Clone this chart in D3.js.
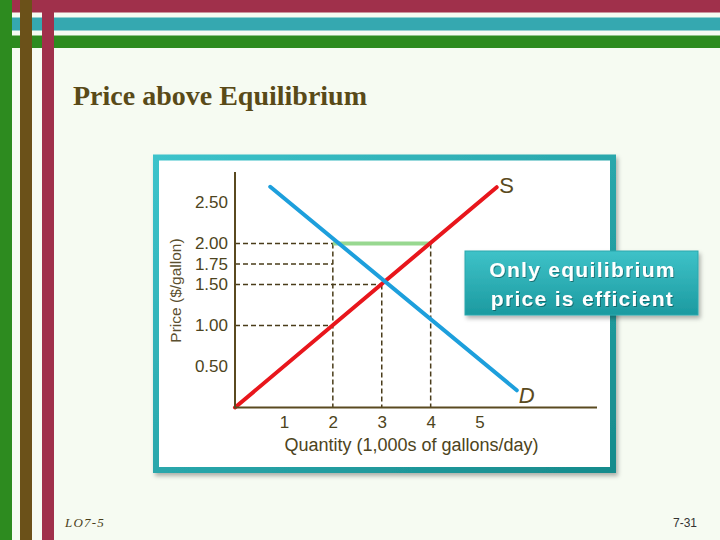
<!DOCTYPE html>
<html>
<head>
<meta charset="utf-8">
<script src="https://cdn.jsdelivr.net/npm/d3@7"></script>
<style>
  html, body { margin: 0; padding: 0; background: #f6fbf2; }
  svg { display: block; }
</style>
</head>
<body>
<svg id="chart" width="720" height="540"></svg>
<script>
// ---- data ----
const titleText = "Price above Equilibrium";
const yTickValues = [0.5, 1.0, 1.5, 1.75, 2.0, 2.5];
const yTickLabels = ["0.50", "1.00", "1.50", "1.75", "2.00", "2.50"];
const xTickValues = [1, 2, 3, 4, 5];
const xTickLabels = ["1", "2", "3", "4", "5"];
const supplyPoints = [[0, 0], [5.35, 2.685]];
const demandPoints = [[0.72, 2.69], [5.76, 0.21]];
const surplusSegment = [[2, 2.0], [4, 2.0]];
const hDashed = [[2, 2.0], [2, 1.75], [3, 1.5], [2, 1.0]];   // [quantity reached, price]
const vDashed = [[2, 2.0], [3, 1.5], [4, 2.0]];              // [quantity, price top]
const xDomainMax = 7.4, yDomainMax = 2.87;
const calloutLines = ["Only equilibrium", "price is efficient"];

const svg = d3.select("#chart");
const defs = svg.append("defs");

// ---- slide decoration ----
const maroon = "#a0304b", cyan = "#35a8b0", green = "#2d8b1f", brown = "#6b5119";
svg.append("rect").attr("x", 0).attr("y", 0).attr("width", 720).attr("height", 12.5).attr("fill", maroon);
svg.append("rect").attr("x", 0).attr("y", 17.5).attr("width", 720).attr("height", 13).attr("fill", cyan);
svg.append("rect").attr("x", 0).attr("y", 35.5).attr("width", 720).attr("height", 12.5).attr("fill", green);
svg.append("rect").attr("x", 0).attr("y", 0).attr("width", 12).attr("height", 540).attr("fill", green);
svg.append("rect").attr("x", 20).attr("y", 0).attr("width", 12).attr("height", 540).attr("fill", brown);
svg.append("rect").attr("x", 42).attr("y", 0).attr("width", 12).attr("height", 540).attr("fill", maroon);

svg.append("text").attr("x", 73).attr("y", 105)
  .attr("font-family", "'Liberation Serif', 'Times New Roman', serif")
  .attr("font-weight", "bold").attr("font-size", 28).attr("fill", "#594a18")
  .text(titleText);

svg.append("text").attr("x", 65).attr("y", 527)
  .attr("font-family", "'Liberation Serif', 'Times New Roman', serif")
  .attr("font-style", "italic").attr("font-size", 13).attr("letter-spacing", 1.2).attr("fill", "#4a3f1a")
  .text("LO7-5");
svg.append("text").attr("x", 685).attr("y", 527).attr("text-anchor", "middle")
  .attr("font-family", "'Liberation Sans', Arial, sans-serif")
  .attr("font-size", 12).attr("fill", "#333").text("7-31");

// ---- panel ----
const pg = defs.append("linearGradient").attr("id", "panelGrad")
  .attr("x1", "0").attr("y1", "0").attr("x2", "1").attr("y2", "1");
pg.append("stop").attr("offset", "0%").attr("stop-color", "#3cc3cb");
pg.append("stop").attr("offset", "100%").attr("stop-color", "#178b8c");
const sh = defs.append("filter").attr("id", "shadow").attr("x", "-10%").attr("y", "-10%").attr("width", "130%").attr("height", "130%");
sh.append("feDropShadow").attr("dx", 2).attr("dy", 3).attr("stdDeviation", 2).attr("flood-color", "#000").attr("flood-opacity", 0.3);

svg.append("rect").attr("x", 156).attr("y", 157.5).attr("width", 457).attr("height", 312.5)
  .attr("fill", "#ffffff").attr("stroke", "url(#panelGrad)").attr("stroke-width", 6)
  .attr("filter", "url(#shadow)");

// ---- scales ----
const x = d3.scaleLinear().domain([0, xDomainMax]).range([235, 597]);
const y = d3.scaleLinear().domain([0, yDomainMax]).range([407.5, 172]);
const axisColor = "#5a4a20";
const textColor = "#4d4420";
const sans = "'Liberation Sans', Arial, Helvetica, sans-serif";

const g = svg.append("g");

// dashed guides
g.selectAll("line.hd").data(hDashed).join("line").attr("class", "hd")
  .attr("x1", x(0)).attr("x2", d => x(d[0]))
  .attr("y1", d => y(d[1])).attr("y2", d => y(d[1]))
  .attr("stroke", "#4a3c1a").attr("stroke-width", 1.5).attr("stroke-dasharray", "5,3");
g.selectAll("line.vd").data(vDashed).join("line").attr("class", "vd")
  .attr("x1", d => x(d[0])).attr("x2", d => x(d[0]))
  .attr("y1", d => y(d[1])).attr("y2", y(0))
  .attr("stroke", "#4a3c1a").attr("stroke-width", 1.5).attr("stroke-dasharray", "5,3");

// surplus segment
const line = d3.line().x(d => x(d[0])).y(d => y(d[1]));
g.append("path").attr("d", line(surplusSegment)).attr("stroke", "#98d890")
  .attr("stroke-width", 4).attr("fill", "none");

// supply and demand
g.append("path").attr("d", line(supplyPoints)).attr("stroke", "#e8161c")
  .attr("stroke-width", 4).attr("fill", "none").attr("stroke-linecap", "round");
g.append("path").attr("d", line(demandPoints)).attr("stroke", "#1d9fdc")
  .attr("stroke-width", 4).attr("fill", "none").attr("stroke-linecap", "round");

// axes
const yAxis = d3.axisLeft(y).tickValues(yTickValues).tickSize(0).tickPadding(7)
  .tickFormat((d, i) => yTickLabels[i]);
const yg = g.append("g").attr("transform", `translate(${x(0)},0)`).call(yAxis);
yg.select(".domain").remove();
yg.selectAll("text").attr("font-family", sans).attr("font-size", 17).attr("fill", textColor);

const xAxis = d3.axisBottom(x).tickValues(xTickValues).tickSize(0).tickPadding(8)
  .tickFormat((d, i) => xTickLabels[i]);
const xg = g.append("g").attr("transform", `translate(0,${y(0)})`).call(xAxis);
xg.select(".domain").remove();
xg.selectAll("text").attr("font-family", sans).attr("font-size", 17).attr("fill", textColor);

g.append("line").attr("x1", x(0)).attr("x2", x(0)).attr("y1", y(yDomainMax)).attr("y2", y(0))
  .attr("stroke", axisColor).attr("stroke-width", 2);
g.append("line").attr("x1", x(0) - 1).attr("x2", x(xDomainMax)).attr("y1", y(0)).attr("y2", y(0))
  .attr("stroke", axisColor).attr("stroke-width", 2);

// axis titles
g.append("text").attr("transform", "translate(175,290.5) rotate(-90)")
  .attr("text-anchor", "middle").attr("dominant-baseline", "central")
  .attr("font-family", sans).attr("font-size", 15.5).attr("fill", "#5b4f2f")
  .text("Price ($/gallon)");
g.append("text").attr("x", 411.5).attr("y", 451).attr("text-anchor", "middle")
  .attr("font-family", sans).attr("font-size", 18).attr("fill", textColor)
  .text("Quantity (1,000s of gallons/day)");

// curve labels
g.append("text").attr("x", x(supplyPoints[1][0]) + 10).attr("y", y(supplyPoints[1][1]) - 2)
  .attr("text-anchor", "middle").attr("dominant-baseline", "central")
  .attr("font-family", sans).attr("font-size", 22).attr("fill", axisColor).text("S");
g.append("text").attr("x", x(demandPoints[1][0]) + 10).attr("y", y(demandPoints[1][1]) + 5)
  .attr("text-anchor", "middle").attr("dominant-baseline", "central")
  .attr("font-family", sans).attr("font-style", "italic").attr("font-size", 22)
  .attr("fill", axisColor).text("D");

// ---- callout ----
const cg = defs.append("linearGradient").attr("id", "callGrad")
  .attr("x1", "0").attr("y1", "0").attr("x2", "0").attr("y2", "1");
cg.append("stop").attr("offset", "0%").attr("stop-color", "#3ec2c8");
cg.append("stop").attr("offset", "100%").attr("stop-color", "#1c9aa0");
svg.append("rect").attr("x", 465).attr("y", 251).attr("width", 233).attr("height", 64)
  .attr("fill", "url(#callGrad)").attr("stroke", "#2aa8ae").attr("stroke-width", 1)
  .attr("filter", "url(#shadow)");
const ts = defs.append("filter").attr("id", "tshadow");
ts.append("feDropShadow").attr("dx", 1).attr("dy", 1).attr("stdDeviation", 0.6)
  .attr("flood-color", "#000").attr("flood-opacity", 0.35);
svg.selectAll("text.call").data(calloutLines).join("text").attr("class", "call")
  .attr("x", 582.5).attr("y", (d, i) => 277 + i * 29).attr("text-anchor", "middle")
  .attr("font-family", sans).attr("font-weight", "bold").attr("font-size", 21)
  .attr("letter-spacing", 1.3).attr("fill", "#ffffff").attr("filter", "url(#tshadow)")
  .text(d => d);
</script>
</body>
</html>
